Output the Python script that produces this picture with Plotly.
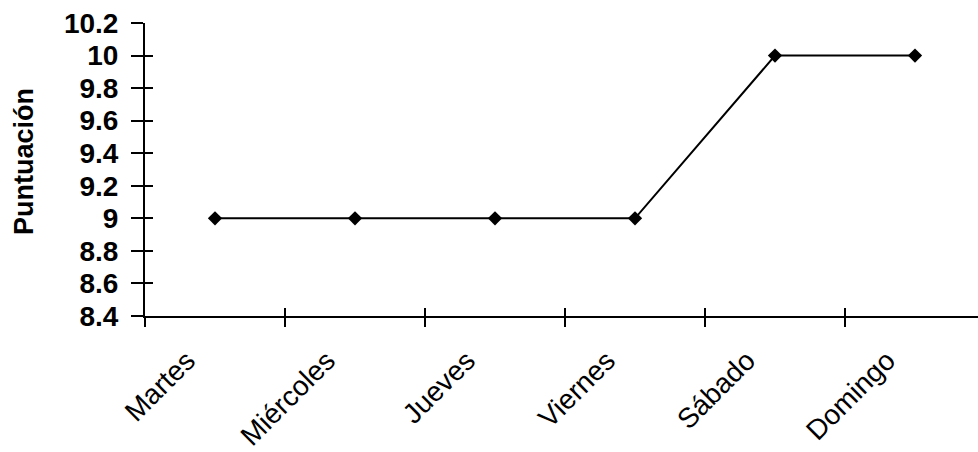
import plotly.graph_objects as go

# Daily score data
dias = ["Martes", "Miércoles", "Jueves", "Viernes", "Sábado", "Domingo"]
puntuacion = [9, 9, 9, 9, 10, 10]

# Y-axis ticks
y_ticks = [8.4, 8.6, 8.8, 9.0, 9.2, 9.4, 9.6, 9.8, 10.0, 10.2]
y_tick_text = ["8.4", "8.6", "8.8", "9", "9.2", "9.4", "9.6", "9.8", "10", "10.2"]

FONT = "Liberation Sans, Arial, sans-serif"

fig = go.Figure()
fig.add_trace(go.Scatter(
    x=dias, y=puntuacion,
    mode="lines+markers",
    line=dict(color="black", width=2),
    marker=dict(symbol="diamond", size=11, color="black"),
    showlegend=False,
    cliponaxis=False,
))

x_range = [-0.5, 5.45]
y_range = [8.4, 10.2]

fig.update_layout(
    width=978, height=452,
    margin=dict(l=145, r=0, t=23, b=136),
    paper_bgcolor="white", plot_bgcolor="white",
    xaxis=dict(
        type="category", categoryorder="array", categoryarray=dias,
        range=x_range, showgrid=False, zeroline=False,
        showline=True, linecolor="black", linewidth=2,
        ticks="outside", ticklen=9, tickwidth=2, tickcolor="black",
        tickson="boundaries",
        tickangle=-45,
        ticklabelstandoff=15, ticklabelshift=-28,
        tickfont=dict(family=FONT, size=28, color="black"),
    ),
    xaxis2=dict(
        type="category", categoryorder="array", categoryarray=dias,
        range=x_range, overlaying="x", side="bottom",
        showgrid=False, zeroline=False, showline=False,
        ticks="inside", ticklen=8, tickwidth=2, tickcolor="black",
        tickson="boundaries", showticklabels=False,
    ),
    yaxis=dict(
        range=y_range, showgrid=False, zeroline=False,
        showline=True, linecolor="black", linewidth=2,
        tickmode="array", tickvals=y_ticks, ticktext=y_tick_text,
        ticks="outside", ticklen=12, tickwidth=2, tickcolor="black",
        ticklabelstandoff=7,
        tickfont=dict(family=FONT, size=28, color="black", weight="bold"),
    ),
    yaxis2=dict(
        range=y_range, overlaying="y", side="left",
        showgrid=False, zeroline=False, showline=False,
        tickmode="array", tickvals=y_ticks,
        ticks="inside", ticklen=8, tickwidth=2, tickcolor="black",
        showticklabels=False,
    ),
    annotations=[dict(
        text="Puntuación", textangle=-90,
        xref="paper", yref="paper", x=-0.1453, y=0.529,
        xanchor="center", yanchor="middle", showarrow=False,
        font=dict(family=FONT, size=27, color="black", weight="bold"),
    )],
)

# Invisible trace so the overlay axes are drawn
fig.add_trace(go.Scatter(
    x=dias, y=puntuacion, xaxis="x2", yaxis="y2",
    mode="markers", marker=dict(opacity=0), showlegend=False, hoverinfo="skip",
))

fig.write_html("out.html")
